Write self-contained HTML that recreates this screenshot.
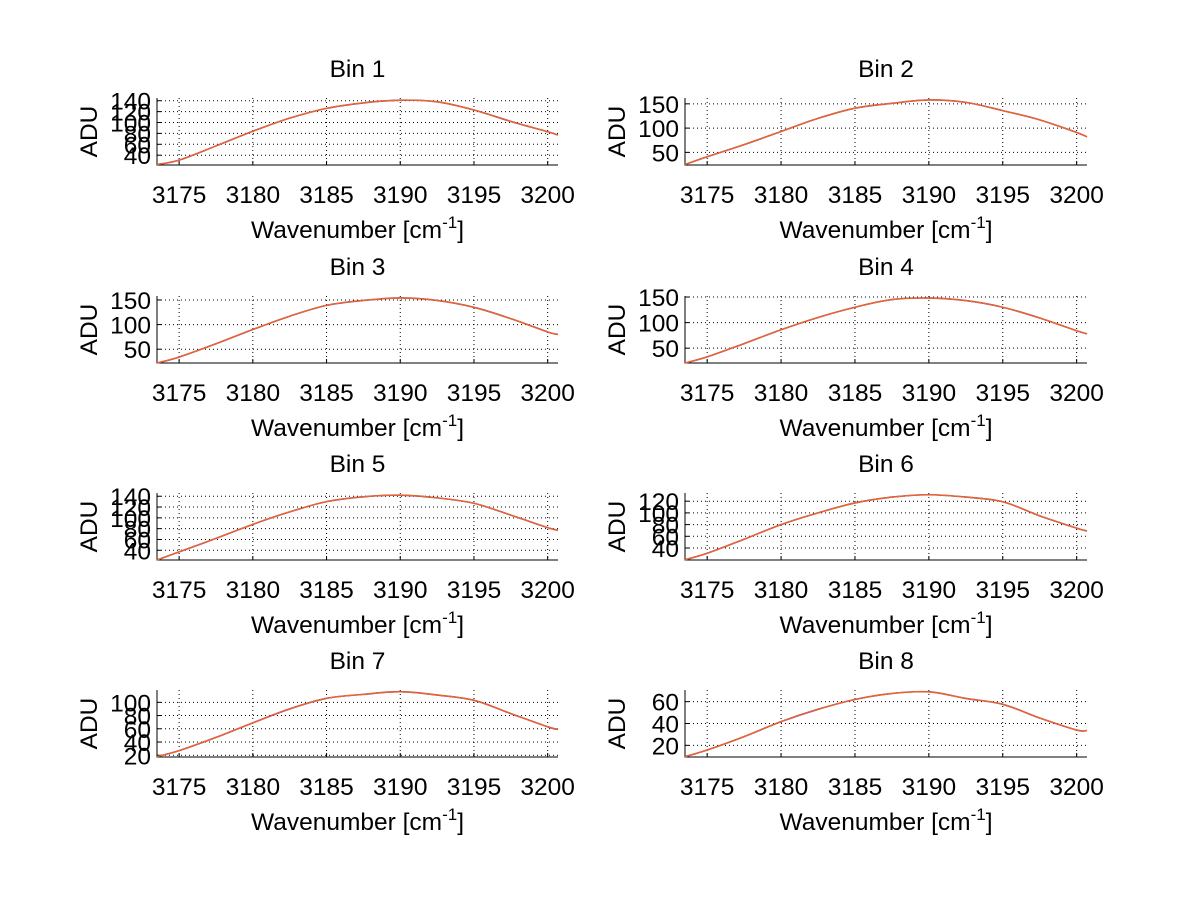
<!DOCTYPE html>
<html><head><meta charset="utf-8"><style>
body{margin:0;background:#fff}
svg text{font-family:"Liberation Sans",sans-serif;font-size:24.5px;fill:#000}
</style></head><body>
<svg id="fig" width="1200" height="901" viewBox="0 0 1200 901" xmlns="http://www.w3.org/2000/svg"></svg>
<script>
const wavenumbers=[3173.5,3175,3177.5,3180,3182.5,3185,3187.5,3190,3192.5,3195,3197.5,3200,3200.7];
const bin1=[23,31,57,84,108,126,136,141,138,123,102,83,77];
const bin2=[25,41,66,93,120,141,151,158,153,136,117,91,82];
const bin3=[22,34,61,90,117,139,149,154,149,135,112,85,80];
const bin4=[21,33,59,86,110,130,145,148,143,130,109,84,78];
const bin5=[22,37,62,88,111,130,139,142,137,127,105,82,77];
const bin6=[20,31,55,80,100,117,127,131,127,119,95,74,69];
const bin7=[18,27,47,69,90,106,112,116,111,103,83,63,59];
const bin8=[9.6,15.7,28,41.7,53,62,67.5,69,63,57.6,45,34,33.5];
const series=[bin1,bin2,bin3,bin4,bin5,bin6,bin7,bin8];
const yLimits=[[22,145],[24,162],[22,158],[21,152],[22,146],[19.5,134],[17.4,118.6],[9.3,70.7]];
const yTickSets=[[40,60,80,100,120,140],[50,100,150],[50,100,150],[50,100,150],[40,60,80,100,120,140],[40,60,80,100,120],[20,40,60,80,100],[20,40,60]];
const xTicks=[3175,3180,3185,3190,3195,3200];
const xLimit=[3173.5,3200.7];

const NS="http://www.w3.org/2000/svg";
const svg=document.getElementById('fig');
function mk(tag,attrs,parent){const e=document.createElementNS(NS,tag);for(const k in attrs)e.setAttribute(k,attrs[k]);(parent||svg).appendChild(e);return e;}
const rowTops=[98,296,493,690],H=67,colX=[[157,558],[685,1087]];
for(let b=0;b<8;b++){
  const r=Math.floor(b/2),c=b%2;
  const x0=colX[c][0],x1=colX[c][1],y0=rowTops[r],y1=y0+H;
  const g=mk('g',{});
  
  
  const sx=v=>x0+(v-xLimit[0])/(xLimit[1]-xLimit[0])*(x1-x0);
  const sy=v=>y1-(v-yLimits[b][0])/(yLimits[b][1]-yLimits[b][0])*H;
  xTicks.forEach(t=>{const x=sx(t);
    const gl=mk('line',{x1:x,x2:x,y1:y0,y2:y1,stroke:'#000','stroke-width':1,'stroke-dasharray':'1,3'},g);
    
    mk('line',{x1:x,x2:x,y1:y1,y2:y1-4,stroke:'#000'},g);
    const tl=mk('text',{x:x,y:y1+38,'text-anchor':'middle'},g);tl.textContent=t;
    });
  yTickSets[b].forEach(t=>{const y=sy(t);
    const gl=mk('line',{x1:x0,x2:x1,y1:y,y2:y,stroke:'#000','stroke-width':1,'stroke-dasharray':'1,3'},g);
    
    mk('line',{x1:x0,x2:x0+4,y1:y,y2:y,stroke:'#000'},g);
    const tl=mk('text',{x:x0-6,y:y+9,'text-anchor':'end'},g);tl.textContent=t;
    });
  const ax=mk('path',{d:`M${x0},${y0}V${y1}H${x1}`,stroke:'#000',fill:'none','stroke-width':1},g);
  
  const d=series[b];
  const pts=wavenumbers.map((w,i)=>[sx(w),sy(d[i])]);
  let p=`M${pts[0][0]},${pts[0][1]}`;
  for(let i=0;i<pts.length-1;i++){const a=pts[Math.max(0,i-1)],p1=pts[i],p2=pts[i+1],q=pts[Math.min(pts.length-1,i+2)];
    p+=`C${p1[0]+(p2[0]-a[0])/6},${p1[1]+(p2[1]-a[1])/6} ${p2[0]-(q[0]-p1[0])/6},${p2[1]-(q[1]-p1[1])/6} ${p2[0]},${p2[1]}`;}
  const under=mk('path',{d:p,stroke:'#6a3d9a',fill:'none','stroke-width':1.6},g);
  
  const ln=mk('path',{d:p,stroke:'#f5651f',fill:'none','stroke-width':1.3},g);
  
  const tt=mk('text',{x:(x0+x1)/2,y:y0-21,'text-anchor':'middle'},g);tt.textContent='Bin '+(b+1);
  
  const xl=mk('text',{x:(x0+x1)/2,y:y1+73,'text-anchor':'middle'},g);
  xl.innerHTML='Wavenumber [cm<tspan dy="-10" font-size="17">-1</tspan><tspan dy="10">]</tspan>';
  
  const cy=(y0+y1)/2;
  const yl=mk('text',{x:x0-61,y:cy+1,'text-anchor':'middle',transform:`rotate(-90 ${x0-61} ${cy})`},g);yl.textContent='ADU';
  
}
</script>
</body></html>
